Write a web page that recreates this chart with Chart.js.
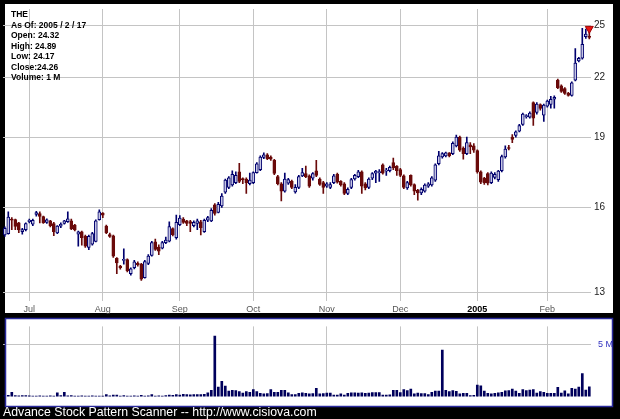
<!DOCTYPE html>
<html><head><meta charset="utf-8">
<script src="https://cdn.jsdelivr.net/npm/chart.js@4.4.0/dist/chart.umd.min.js"></script>
<style>
html,body{margin:0;padding:0;background:#000;width:620px;height:419px;overflow:hidden;}
#wrap{position:relative;width:620px;height:419px;}
#price{position:absolute;left:0;top:0;}
#vol{position:absolute;left:0;top:314px;}
#info{position:absolute;left:11px;top:9px;font:bold 8.5px "Liberation Sans",Arial,sans-serif;line-height:10.5px;color:#000;white-space:pre;}
#footer{position:absolute;left:3px;top:406px;font:12.3px "Liberation Sans",Arial,sans-serif;line-height:12px;color:#fff;white-space:pre;}
</style></head>
<body><div id="wrap">
<canvas id="price" width="620" height="318"></canvas>
<canvas id="vol" width="620" height="95"></canvas>
<div id="info"></div>
<div id="footer">Advance Stock Pattern Scanner -- http://www.cisiova.com</div>
</div>
<script>
const symbol = 'THE';
const asOf = '2005 / 2 / 17';
const dates = [
'2004-06-22','2004-06-23','2004-06-24','2004-06-25','2004-06-28','2004-06-29','2004-06-30',
'2004-07-01','2004-07-02','2004-07-06','2004-07-07','2004-07-08','2004-07-09','2004-07-12','2004-07-13','2004-07-14','2004-07-15','2004-07-16','2004-07-19','2004-07-20','2004-07-21','2004-07-22','2004-07-23','2004-07-26','2004-07-27','2004-07-28','2004-07-29','2004-07-30',
'2004-08-02','2004-08-03','2004-08-04','2004-08-05','2004-08-06','2004-08-09','2004-08-10','2004-08-11','2004-08-12','2004-08-13','2004-08-16','2004-08-17','2004-08-18','2004-08-19','2004-08-20','2004-08-23','2004-08-24','2004-08-25','2004-08-26','2004-08-27','2004-08-30','2004-08-31',
'2004-09-01','2004-09-02','2004-09-03','2004-09-07','2004-09-08','2004-09-09','2004-09-10','2004-09-13','2004-09-14','2004-09-15','2004-09-16','2004-09-17','2004-09-20','2004-09-21','2004-09-22','2004-09-23','2004-09-24','2004-09-27','2004-09-28','2004-09-29','2004-09-30',
'2004-10-01','2004-10-04','2004-10-05','2004-10-06','2004-10-07','2004-10-08','2004-10-11','2004-10-12','2004-10-13','2004-10-14','2004-10-15','2004-10-18','2004-10-19','2004-10-20','2004-10-21','2004-10-22','2004-10-25','2004-10-26','2004-10-27','2004-10-28','2004-10-29',
'2004-11-01','2004-11-02','2004-11-03','2004-11-04','2004-11-05','2004-11-08','2004-11-09','2004-11-10','2004-11-11','2004-11-12','2004-11-15','2004-11-16','2004-11-17','2004-11-18','2004-11-19','2004-11-22','2004-11-23','2004-11-24','2004-11-26','2004-11-29','2004-11-30',
'2004-12-01','2004-12-02','2004-12-03','2004-12-06','2004-12-07','2004-12-08','2004-12-09','2004-12-10','2004-12-13','2004-12-14','2004-12-15','2004-12-16','2004-12-17','2004-12-20','2004-12-21','2004-12-22','2004-12-23','2004-12-27','2004-12-28','2004-12-29','2004-12-30','2004-12-31',
'2005-01-03','2005-01-04','2005-01-05','2005-01-06','2005-01-07','2005-01-10','2005-01-11','2005-01-12','2005-01-13','2005-01-14','2005-01-18','2005-01-19','2005-01-20','2005-01-21','2005-01-24','2005-01-25','2005-01-26','2005-01-27','2005-01-28','2005-01-31',
'2005-02-01','2005-02-02','2005-02-03','2005-02-04','2005-02-07','2005-02-08','2005-02-09','2005-02-10','2005-02-11','2005-02-14','2005-02-15','2005-02-16','2005-02-17'];
const monthLabels = ['Jul','Aug','Sep','Oct','Nov','Dec','2005','Feb'];
const opens = [14.95,15.0,15.55,15.53,15.4,15.07,15.15,
15.45,15.35,15.72,15.76,15.64,15.42,15.48,15.38,15.03,15.28,15.38,15.45,15.48,15.32,14.98,15.07,14.9,14.5,14.62,14.72,15.52,
15.78,15.28,14.97,14.92,14.12,13.86,14.05,14.08,13.6,13.8,13.95,13.92,13.47,13.95,14.22,14.7,14.52,14.48,14.67,14.73,15.19,14.85,
15.33,15.55,15.48,15.45,15.3,15.38,15.44,15.07,15.5,15.48,16.1,15.8,16.06,16.6,16.8,16.9,17.0,17.45,17.15,17.15,16.95,
17.0,17.42,17.55,18.08,18.2,18.1,17.95,17.25,16.95,16.65,16.98,17.05,16.62,16.8,17.28,17.38,17.28,17.18,17.5,17.15,17.0,
16.85,16.8,17.0,17.35,17.05,16.95,16.55,16.8,17.15,17.25,17.45,16.95,16.8,17.18,17.4,17.42,17.75,17.48,17.5,17.85,17.7,
17.55,17.28,16.78,17.3,16.92,16.68,16.57,16.65,16.85,16.9,17.1,17.8,18.1,18.15,18.28,18.25,18.6,19.0,18.5,18.25,18.65,18.6,
18.38,17.45,17.18,17.38,17.0,17.22,17.12,17.5,18.1,18.52,19.0,19.08,19.28,19.6,19.98,19.95,20.68,20.18,20.58,20.05,
20.5,20.58,20.85,21.85,21.55,21.4,21.15,21.05,21.85,22.9,23.05,24.3,24.32];
const highs = [15.25,15.82,15.6,15.55,15.42,15.2,15.4,
15.55,15.55,15.84,15.82,15.66,15.56,15.5,15.42,15.3,15.4,15.5,15.82,15.55,15.35,15.1,15.1,14.95,14.95,15.05,15.52,15.9,
15.8,15.32,15.02,14.95,14.15,13.88,14.45,14.1,13.8,14.05,14.0,13.95,14.05,14.25,14.72,14.8,14.6,14.72,14.88,15.44,15.22,15.7,
15.68,15.6,15.5,15.5,15.48,15.55,15.5,15.55,15.65,15.95,16.15,16.2,16.55,17.15,17.25,17.5,17.45,17.82,17.2,17.2,17.4,
17.45,17.85,18.15,18.28,18.25,18.15,18.0,17.3,17.0,17.4,17.18,17.1,16.92,17.3,17.6,17.7,17.32,17.42,17.95,17.2,17.05,
17.0,17.0,17.35,17.4,17.08,17.0,16.78,17.18,17.35,17.52,17.5,17.0,17.2,17.42,17.52,17.55,17.8,17.6,17.7,18.05,17.72,
17.6,17.32,17.05,17.32,16.95,16.72,16.78,16.95,17.0,17.25,17.8,18.35,18.3,18.32,18.3,18.78,19.1,19.05,18.55,19.0,18.75,18.7,
18.42,17.5,17.22,17.42,17.45,17.42,17.52,18.18,18.6,18.62,19.12,19.3,19.6,20.15,20.08,20.22,20.72,20.68,20.62,20.6,
20.8,21.0,21.02,21.9,21.6,21.45,21.2,21.75,23.6,23.1,24.8,24.75,24.89];
const lows = [14.9,14.98,15.15,15.15,15.04,14.98,15.1,
15.4,15.3,15.66,15.4,15.38,15.38,15.25,14.93,15.0,15.22,15.35,15.42,15.15,15.1,14.55,14.58,14.5,14.42,14.58,14.7,15.5,
15.6,15.0,14.86,14.15,13.6,13.75,13.92,13.66,13.55,13.76,13.85,13.38,13.45,13.9,14.2,14.4,14.25,14.45,14.64,14.7,14.92,14.8,
15.3,15.38,15.3,15.07,15.25,15.15,14.95,15.05,15.45,15.45,15.7,15.78,16.0,16.55,16.75,16.85,16.95,17.0,16.95,16.55,16.9,
16.95,17.4,17.5,18.02,17.98,17.95,17.33,16.9,16.25,16.6,16.92,16.75,16.56,16.75,17.25,17.2,16.8,17.1,17.25,16.88,16.55,
16.8,16.75,16.95,16.98,16.85,16.5,16.5,16.75,17.1,17.2,16.55,16.7,16.75,17.12,17.0,17.05,17.35,17.3,17.45,17.55,17.3,
17.25,16.75,16.72,16.85,16.5,16.28,16.5,16.6,16.8,16.85,17.05,17.75,18.05,18.1,18.1,18.2,18.55,18.35,18.0,18.2,18.25,18.3,
17.4,16.95,16.92,16.9,16.95,17.15,17.05,17.45,18.05,18.42,18.75,19.0,19.25,19.55,19.9,19.9,19.55,20.1,20.3,19.75,
20.45,20.4,20.4,21.4,21.2,21.1,21.0,21.0,21.8,22.85,23.0,24.2,24.17];
const closes = [15.2,15.62,15.5,15.27,15.14,15.15,15.38,
15.5,15.5,15.8,15.65,15.41,15.52,15.3,15.07,15.28,15.35,15.48,15.56,15.18,15.14,15.07,14.85,14.55,14.9,15.0,15.48,15.82,
15.7,15.04,14.9,14.2,13.96,13.8,14.08,13.7,13.76,14.0,13.9,13.42,14.01,14.2,14.68,14.43,14.37,14.68,14.77,15.26,14.96,15.42,
15.58,15.42,15.38,15.38,15.42,15.48,15.22,15.5,15.6,15.88,15.76,16.12,16.45,17.1,17.2,17.35,17.3,17.05,17.12,17.0,17.1,
17.42,17.8,18.1,18.2,18.02,18.0,17.38,16.95,16.65,17.15,17.12,16.8,16.8,17.25,17.42,17.25,16.85,17.38,17.3,16.92,16.8,
16.95,16.92,17.28,17.02,16.9,16.55,16.72,17.12,17.3,17.45,16.85,16.78,17.15,17.38,17.48,17.45,17.4,17.5,17.65,17.62,17.5,
17.3,16.8,17.0,16.9,16.65,16.57,16.72,16.9,16.95,17.2,17.75,18.15,18.25,18.28,18.15,18.72,19.0,18.4,18.25,18.75,18.55,18.4,
17.45,17.02,17.0,16.98,17.4,17.35,17.48,18.12,18.45,18.48,18.9,19.25,19.55,20.1,20.02,20.15,19.9,20.6,20.38,20.55,
20.75,20.85,20.95,21.45,21.25,21.15,21.05,21.7,22.78,23.05,23.85,24.45,24.26];
const volumes = [0.1,0.12,0.4,0.1,0.08,0.1,0.1,
0.08,0.06,0.05,0.07,0.06,0.05,0.08,0.06,0.36,0.1,0.4,0.08,0.1,0.06,0.05,0.08,0.06,0.05,0.07,0.06,0.05,
0.06,0.2,0.08,0.15,0.15,0.06,0.1,0.05,0.06,0.08,0.06,0.12,0.05,0.07,0.2,0.06,0.08,0.05,0.1,0.15,0.12,0.2,
0.15,0.22,0.2,0.18,0.2,0.2,0.2,0.22,0.35,0.6,5.8,0.9,1.45,1.0,0.52,0.6,0.57,0.47,0.34,0.47,0.4,
0.68,0.47,0.31,0.26,0.3,0.68,0.42,0.42,0.6,0.6,0.35,0.2,0.2,0.31,0.36,0.31,0.26,0.3,0.78,0.26,0.28,
0.34,0.34,0.15,0.15,0.26,0.15,0.31,0.36,0.36,0.34,0.36,0.31,0.34,0.39,0.39,0.39,0.15,0.15,0.18,0.6,0.6,
0.39,0.68,0.57,0.73,0.26,0.34,0.3,0.29,0.2,0.42,0.52,0.52,4.45,0.6,0.47,0.57,0.5,0.26,0.31,0.31,0.1,0.12,
1.1,1.04,0.52,0.31,0.26,0.31,0.36,0.42,0.55,0.57,0.73,0.52,0.31,0.68,0.57,0.62,0.68,0.34,0.47,0.42,
0.31,0.31,0.31,0.88,0.34,0.55,0.26,0.78,0.73,0.91,2.2,0.62,0.94];
const priceTicks = [13,16,19,22,25];
const volumeTicks = [5];
const signalPrice = 24.78;

const FONT = '"Liberation Sans", Arial, sans-serif';
const GRID = '#c4c4c4';
const UP_FILL = '#c6c6e4', UP_LINE = '#00006e', DN = '#6a0a0a';
const N = dates.length;
const monthStart = dates.map((d,i) => i > 0 && d.slice(5,7) !== dates[i-1].slice(5,7));
const tickText = []; { let m = 0; dates.forEach((d,i) => tickText.push(monthStart[i] ? monthLabels[m++] : '')); }
const isUp = closes.map((c,i) => c >= opens[i]);

document.getElementById('info').textContent =
  symbol + '\nAs Of: ' + asOf + '\nOpen: ' + opens[N-1].toFixed(2) + '\nHigh: ' + highs[N-1].toFixed(2) +
  '\nLow: ' + lows[N-1].toFixed(2) + '\nClose:' + closes[N-1].toFixed(2) + '\nVolume: ' + Math.round(volumes[N-1]) + ' M';

const panelBg = {
  id: 'panelBg',
  beforeDraw(chart, args, o) {
    const c = chart.ctx; c.save();
    c.fillStyle = '#fff'; c.fillRect(o.x, o.y, o.w, o.h);
    c.restore();
  },
  afterDraw(chart, args, o) {
    if (!o.border) return;
    const c = chart.ctx; c.save();
    c.strokeStyle = o.border; c.lineWidth = 1.5;
    c.strokeRect(o.x + 0.5, o.y + 0.5, o.w - 1, o.h - 1);
    c.restore();
  }
};
Chart.register(panelBg);

new Chart(document.getElementById('price'), {
  type: 'bar',
  data: {
    labels: dates,
    datasets: [
      { type: 'line', data: dates.map((_, i) => i === N - 1 ? signalPrice : null), showLine: false,
        pointStyle: 'triangle', rotation: 180, pointRadius: 4.6, pointBackgroundColor: '#e81414',
        pointBorderColor: '#a00000', pointBorderWidth: 1, order: 0 },
      { data: opens.map((o, i) => [o, closes[i]]), grouped: false, barThickness: 3, minBarLength: 1,
        backgroundColor: isUp.map(u => u ? UP_FILL : DN), borderColor: isUp.map(u => u ? UP_LINE : DN),
        borderWidth: 1, borderSkipped: false, order: 1 },
      { data: lows.map((l, i) => [l, highs[i]]), grouped: false, barThickness: 1,
        backgroundColor: isUp.map(u => u ? UP_LINE : DN), order: 2 }
    ]
  },
  options: {
    responsive: false, animation: false, events: [],
    layout: { autoPadding: false, padding: { left: 3.05, right: 0, top: 5, bottom: 0 } },
    plugins: { legend: { display: false }, tooltip: { enabled: false },
      panelBg: { x: 5, y: 4, w: 608, h: 309 } },
    scales: {
      x: { type: 'category', offset: true,
        grid: { offset: false, drawTicks: false, color: ctx => monthStart[ctx.index] ? GRID : 'rgba(0,0,0,0)' },
        border: { display: false },
        ticks: { autoSkip: false, maxRotation: 0, minRotation: 0, padding: 3,
          callback: (v, i) => tickText[i],
          font: ctx => ({ family: FONT, size: 9, weight: tickText[ctx.index] === '2005' ? 'bold' : 'normal' }),
          color: ctx => tickText[ctx.index] === '2005' ? '#000' : '#555' } },
      y: { type: 'logarithmic', position: 'right', min: 12.714, max: 26.004,
        grid: { drawTicks: false, color: GRID }, border: { display: false },
        afterBuildTicks: s => { s.ticks = priceTicks.map(v => ({ value: v })); },
        afterFit: s => { s.width = 28.95; },
        ticks: { padding: 3, color: '#222', font: { family: FONT, size: 10 }, callback: v => String(v) } }
    }
  }
});

new Chart(document.getElementById('vol'), {
  type: 'bar',
  data: { labels: dates, datasets: [{ data: volumes, backgroundColor: '#00005c', barThickness: 2 }] },
  options: {
    responsive: false, animation: false, events: [],
    layout: { autoPadding: false, padding: { left: 3.05, right: 0, top: 6, bottom: 3 } },
    plugins: { legend: { display: false }, tooltip: { enabled: false },
      panelBg: { x: 5, y: 4, w: 608, h: 89, border: '#2a2a9c' } },
    scales: {
      x: { type: 'category', offset: true,
        grid: { offset: false, drawTicks: false, color: ctx => monthStart[ctx.index] ? GRID : 'rgba(0,0,0,0)' },
        border: { display: false }, ticks: { display: false, autoSkip: false } },
      y: { position: 'right', min: 0, max: 6.72,
        grid: { drawTicks: false, color: GRID }, border: { display: false },
        afterBuildTicks: s => { s.ticks = volumeTicks.map(v => ({ value: v })); },
        afterFit: s => { s.width = 28.95; },
        ticks: { padding: 7, color: '#3030c0', font: { family: FONT, size: 9 }, callback: v => v + ' M' } }
    }
  }
});
</script>
</body></html>
